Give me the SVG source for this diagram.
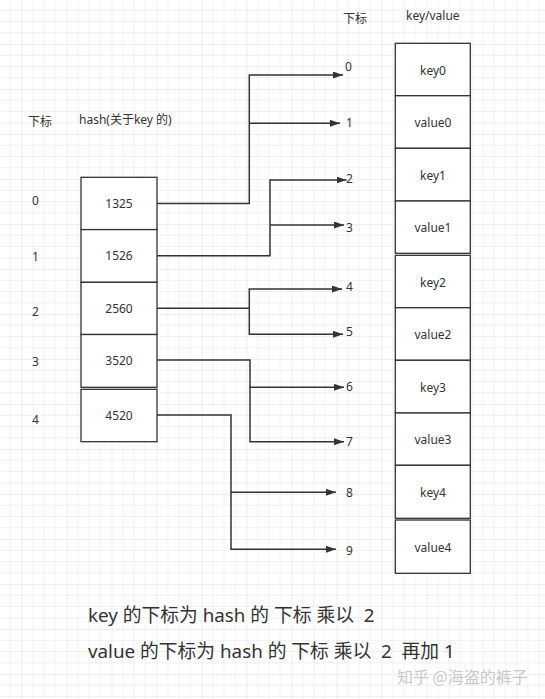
<svg xmlns="http://www.w3.org/2000/svg" width="545" height="699" viewBox="0 0 545 699">
<style>
.box{fill:#fff;stroke:#333;stroke-width:1.3}
.t{font-family:"Noto Sans","Noto Sans CJK SC",sans-serif;font-size:12px;fill:#333}
.c{text-anchor:middle}
.big{font-family:"Noto Sans","Noto Sans CJK SC",sans-serif;font-size:18.8px;fill:#333;white-space:pre}
.ln{fill:none;stroke:#333;stroke-width:1.5;marker-end:url(#ah)}
</style>
<defs>
<pattern id="grid" patternUnits="userSpaceOnUse" x="21.5" y="-1" width="45" height="45">
<path d="M11.25 0V45M22.5 0V45M33.75 0V45M0 11.25H45M0 22.5H45M0 33.75H45" stroke="#f0f0f0" stroke-width="1"/>
<path d="M0 0V45M0 0H45" stroke="#dedede" stroke-width="1"/>
</pattern>
<marker id="ah" markerUnits="userSpaceOnUse" markerWidth="11" markerHeight="8" refX="10" refY="3.5" orient="auto">
<path d="M0 0L10 3.5L0 7z" fill="#333"/>
</marker>
</defs>
<rect width="545" height="699" fill="#fff"/>
<rect width="545" height="699" fill="url(#grid)"/>

<g id="labels">
<text class="t" x="28" y="126">下标</text>
<text class="t" x="79" y="124">hash(关于key 的)</text>
<text class="t" x="32" y="205">0</text>
<text class="t" x="32" y="261">1</text>
<text class="t" x="32" y="316">2</text>
<text class="t" x="32" y="366">3</text>
<text class="t" x="32" y="424">4</text>
<text class="t" x="343" y="23">下标</text>
<text class="t" x="406" y="20">key/value</text>
<text class="t" x="345" y="71">0</text>
<text class="t" x="346" y="127">1</text>
<text class="t" x="346" y="183">2</text>
<text class="t" x="346" y="232">3</text>
<text class="t" x="346" y="291">4</text>
<text class="t" x="346" y="336">5</text>
<text class="t" x="346" y="391">6</text>
<text class="t" x="346" y="446">7</text>
<text class="t" x="346" y="497">8</text>
<text class="t" x="346" y="555">9</text>
</g>

<g id="hash0"><rect class="box" x="81" y="177.3" width="76" height="52.3"/><text class="t c" x="119" y="207.5">1325</text></g>
<g id="hash1"><rect class="box" x="81" y="229.6" width="76" height="52.7"/><text class="t c" x="119" y="260">1526</text></g>
<g id="hash2"><rect class="box" x="81" y="282.3" width="76" height="52.2"/><text class="t c" x="119" y="312.5">2560</text></g>
<g id="hash3"><rect class="box" x="81" y="334.5" width="76" height="52.8"/><text class="t c" x="119" y="365">3520</text></g>
<g id="hash4"><rect class="box" x="81" y="389.3" width="76" height="52.4"/><text class="t c" x="119" y="420">4520</text></g>

<g id="key0"><rect class="box" x="395.3" y="43.3" width="75" height="52.4"/><text class="t c" x="433" y="75">key0</text></g>
<g id="value0"><rect class="box" x="395.3" y="95.7" width="75" height="52.6"/><text class="t c" x="433" y="127">value0</text></g>
<g id="key1"><rect class="box" x="395.3" y="148.3" width="75" height="52.7"/><text class="t c" x="433" y="180">key1</text></g>
<g id="value1"><rect class="box" x="395.3" y="201" width="75" height="52.3"/><text class="t c" x="433" y="232">value1</text></g>
<g id="key2"><rect class="box" x="395.3" y="255.3" width="75" height="52.4"/><text class="t c" x="433" y="287">key2</text></g>
<g id="value2"><rect class="box" x="395.3" y="307.7" width="75" height="52.6"/><text class="t c" x="433" y="339">value2</text></g>
<g id="key3"><rect class="box" x="395.3" y="360.3" width="75" height="52.7"/><text class="t c" x="433" y="392">key3</text></g>
<g id="value3"><rect class="box" x="395.3" y="413" width="75" height="52.3"/><text class="t c" x="433" y="444">value3</text></g>
<g id="key4"><rect class="box" x="395.3" y="465.3" width="75" height="53"/><text class="t c" x="433" y="497">key4</text></g>
<g id="value4"><rect class="box" x="395.3" y="520" width="75" height="53.3"/><text class="t c" x="433" y="552">value4</text></g>

<g id="connectors">
<path class="ln" d="M157 203.5H249.3V75H343"/>
<path class="ln" d="M249.3 123.3H340"/>
<path class="ln" d="M157 255.7H270V180H346.5"/>
<path class="ln" d="M270 225H344"/>
<path class="ln" d="M157 308.3H249.3V289H342"/>
<path class="ln" d="M249.3 308.3V334.3H343"/>
<path class="ln" d="M157 360H250V387.3H344"/>
<path class="ln" d="M250 387.3V441.7H344"/>
<path class="ln" d="M157 415H231V492.3H336"/>
<path class="ln" d="M231 492.3V549.3H336"/>
</g>

<g id="notes">
<text class="big" x="88" y="622" xml:space="preserve">key 的下标为 hash 的 下标 乘以  2</text>
<text class="big" x="88" y="658" xml:space="preserve">value 的下标为 hash 的 下标 乘以  2  再加 1</text>
<text x="397" y="683" font-family="Noto Sans CJK SC,sans-serif" font-size="16" fill="#c8c8c8">知乎 @海盗的裤子</text>
</g>
</svg>
